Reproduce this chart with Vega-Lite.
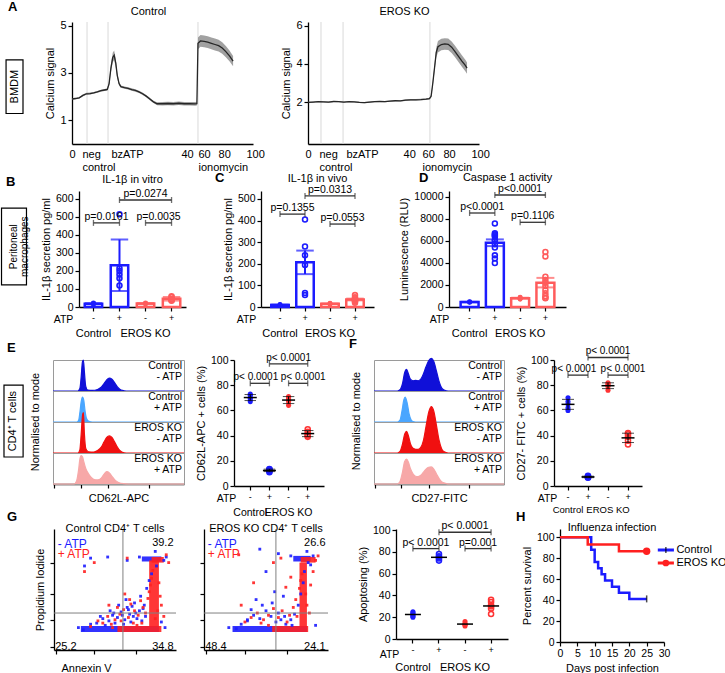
{
"$schema":"https://vega.github.io/schema/vega-lite/v6.json",
"padding":{"left":0,"top":1,"right":0,"bottom":0},
"bounds":"flush",
"spacing":169,
"resolve":{"scale":{"color":"independent","stroke":"independent"}},
"config":{
 "font":"Liberation Sans",
 "view":{"stroke":null},
 "axis":{"labelFontSize":10.5,"titleFontSize":11,"titleFontWeight":"normal","labelColor":"#000","titleColor":"#000","domainColor":"#000","tickColor":"#000","domainWidth":1.3,"tickWidth":1.2,"tickSize":4,"labelPadding":2,"titlePadding":4,"grid":false,"labelFlush":false,"labelOverlap":false},
 "title":{"fontSize":11,"fontWeight":"normal","color":"#000"},
 "text":{"fontSize":10.5,"color":"#000"},
 "header":{"titleFontSize":11,"titleFontWeight":"normal","titleColor":"#000"}
},
"datasets":{
 "evC":[{"t":8.3},{"t":19.9},{"t":69.6}],
 "evE":[{"t":7.6},{"t":20.5},{"t":71.3}],
 "caC":[{"t":0,"v":1.9,"e":0.03},{"t":2,"v":1.92,"e":0.03},{"t":4,"v":1.95,"e":0.03},{"t":6,"v":2.05,"e":0.04},{"t":8,"v":2.12,"e":0.04},{"t":10,"v":2.13,"e":0.04},{"t":12,"v":2.16,"e":0.04},{"t":14,"v":2.2,"e":0.04},{"t":16,"v":2.25,"e":0.04},{"t":18,"v":2.28,"e":0.04},{"t":19.5,"v":2.3,"e":0.05},{"t":20.5,"v":2.55,"e":0.1},{"t":21.5,"v":3.2,"e":0.15},{"t":22.5,"v":3.65,"e":0.2},{"t":23.3,"v":3.75,"e":0.2},{"t":24.2,"v":3.4,"e":0.18},{"t":25,"v":2.9,"e":0.12},{"t":26,"v":2.55,"e":0.08},{"t":27,"v":2.42,"e":0.05},{"t":29,"v":2.38,"e":0.05},{"t":31,"v":2.35,"e":0.05},{"t":33,"v":2.3,"e":0.05},{"t":35,"v":2.26,"e":0.05},{"t":37,"v":2.2,"e":0.05},{"t":39,"v":2.12,"e":0.05},{"t":41,"v":2.02,"e":0.05},{"t":43,"v":1.9,"e":0.05},{"t":45,"v":1.78,"e":0.05},{"t":47,"v":1.7,"e":0.06},{"t":50,"v":1.7,"e":0.07},{"t":53,"v":1.71,"e":0.07},{"t":56,"v":1.7,"e":0.07},{"t":59,"v":1.72,"e":0.07},{"t":62,"v":1.7,"e":0.07},{"t":65,"v":1.7,"e":0.07},{"t":68,"v":1.69,"e":0.08},{"t":69,"v":1.7,"e":0.08},{"t":69.6,"v":4.25,"e":0.25},{"t":71,"v":4.35,"e":0.25},{"t":73,"v":4.33,"e":0.25},{"t":75,"v":4.3,"e":0.25},{"t":77,"v":4.25,"e":0.25},{"t":79,"v":4.2,"e":0.25},{"t":81,"v":4.15,"e":0.25},{"t":83,"v":4.05,"e":0.24},{"t":85,"v":3.9,"e":0.24},{"t":87,"v":3.72,"e":0.23},{"t":89,"v":3.5,"e":0.22}],
 "caE":[{"t":0,"v":1.98,"e":0.03},{"t":3,"v":2.0,"e":0.03},{"t":6,"v":2.02,"e":0.03},{"t":9,"v":2.01,"e":0.03},{"t":12,"v":2.0,"e":0.03},{"t":15,"v":2.03,"e":0.03},{"t":18,"v":2.02,"e":0.03},{"t":21,"v":2.0,"e":0.03},{"t":24,"v":2.02,"e":0.03},{"t":27,"v":2.01,"e":0.03},{"t":30,"v":1.98,"e":0.03},{"t":33,"v":1.97,"e":0.03},{"t":36,"v":2.0,"e":0.03},{"t":39,"v":2.02,"e":0.03},{"t":42,"v":2.03,"e":0.03},{"t":45,"v":2.02,"e":0.03},{"t":48,"v":2.05,"e":0.03},{"t":51,"v":2.07,"e":0.03},{"t":54,"v":2.06,"e":0.03},{"t":57,"v":2.1,"e":0.04},{"t":60,"v":2.12,"e":0.04},{"t":63,"v":2.12,"e":0.04},{"t":66,"v":2.13,"e":0.04},{"t":69,"v":2.15,"e":0.04},{"t":71,"v":2.18,"e":0.05},{"t":72,"v":2.3,"e":0.08},{"t":73,"v":3.0,"e":0.15},{"t":74,"v":3.8,"e":0.2},{"t":75,"v":4.6,"e":0.25},{"t":76,"v":4.9,"e":0.3},{"t":78,"v":5.02,"e":0.3},{"t":80,"v":5.05,"e":0.3},{"t":82,"v":5.03,"e":0.3},{"t":84,"v":4.88,"e":0.3},{"t":86,"v":4.65,"e":0.3},{"t":88,"v":4.4,"e":0.3},{"t":90,"v":4.15,"e":0.3},{"t":92,"v":3.92,"e":0.3},{"t":93,"v":3.78,"e":0.3}],
 "B":[{"g":"C-","v":15},{"g":"C-","v":20},{"g":"C-","v":18},{"g":"C-","v":22},{"g":"C-","v":17},{"g":"C+","v":515},{"g":"C+","v":215},{"g":"C+","v":200},{"g":"C+","v":180},{"g":"C+","v":160},{"g":"C+","v":120},{"g":"E-","v":18},{"g":"E-","v":22},{"g":"E-","v":20},{"g":"E-","v":16},{"g":"E+","v":35},{"g":"E+","v":45},{"g":"E+","v":55},{"g":"E+","v":40},{"g":"E+","v":60},{"g":"E+","v":38}],
 "Bp":[{"g":"C-","g2":"C+","v":467,"p":"p=0.0161"},{"g":"E-","g2":"E+","v":467,"p":"p=0.0035"},{"g":"C+","g2":"E+","v":594,"p":"p=0.0274"}],
 "C":[{"g":"C-","v":8},{"g":"C-","v":10},{"g":"C-","v":12},{"g":"C-","v":9},{"g":"C+","v":405},{"g":"C+","v":280},{"g":"C+","v":240},{"g":"C+","v":195},{"g":"C+","v":65},{"g":"C+","v":55},{"g":"E-","v":12},{"g":"E-","v":15},{"g":"E-","v":18},{"g":"E-","v":14},{"g":"E+","v":55},{"g":"E+","v":45},{"g":"E+","v":40},{"g":"E+","v":35},{"g":"E+","v":30},{"g":"E+","v":25},{"g":"E+","v":20},{"g":"E+","v":28}],
 "Cp":[{"g":"C-","g2":"C+","v":430,"p":"p=0.1355"},{"g":"E-","g2":"E+","v":384,"p":"p=0.0553"},{"g":"C+","g2":"E+","v":514,"p":"p=0.0313"}],
 "D":[{"g":"C-","v":450},{"g":"C-","v":480},{"g":"C-","v":420},{"g":"C+","v":7600},{"g":"C+","v":6700},{"g":"C+","v":6600},{"g":"C+","v":6500},{"g":"C+","v":6400},{"g":"C+","v":6100},{"g":"C+","v":6000},{"g":"C+","v":5700},{"g":"C+","v":5400},{"g":"C+","v":4700},{"g":"C+","v":4400},{"g":"C+","v":4000},{"g":"E-","v":750},{"g":"E-","v":850},{"g":"E-","v":800},{"g":"E-","v":900},{"g":"E-","v":700},{"g":"E+","v":5000},{"g":"E+","v":4600},{"g":"E+","v":2750},{"g":"E+","v":2450},{"g":"E+","v":2200},{"g":"E+","v":1900},{"g":"E+","v":1550},{"g":"E+","v":1250},{"g":"E+","v":1000},{"g":"E+","v":850},{"g":"E+","v":800}],
 "Dp":[{"g":"C-","g2":"C+","v":8545,"p":"p<0.0001"},{"g":"E-","g2":"E+","v":7700,"p":"p=0.1106"},{"g":"C+","g2":"E+","v":10180,"p":"p<0.0001"}],
 "E":[{"g":"C-","v":67},{"g":"C-","v":69},{"g":"C-","v":70},{"g":"C-","v":72},{"g":"C-","v":73},{"g":"C+","v":11},{"g":"C+","v":12},{"g":"C+","v":12.5},{"g":"C+","v":13},{"g":"C+","v":13.5},{"g":"E-","v":64},{"g":"E-","v":67},{"g":"E-","v":69},{"g":"E-","v":70},{"g":"E-","v":71},{"g":"E+","v":39},{"g":"E+","v":40},{"g":"E+","v":41},{"g":"E+","v":43},{"g":"E+","v":45}],
 "Ep":[{"g":"C-","g2":"C+","v":81.5,"p":"p< 0.0001"},{"g":"E-","g2":"E+","v":81.5,"p":"p< 0.0001"},{"g":"C+","g2":"E+","v":97,"p":"p< 0.0001"}],
 "F":[{"g":"C-","v":60},{"g":"C-","v":62},{"g":"C-","v":65},{"g":"C-","v":67},{"g":"C-","v":70},{"g":"C+","v":6.5},{"g":"C+","v":7},{"g":"C+","v":7.5},{"g":"C+","v":8},{"g":"C+","v":7},{"g":"E-","v":76},{"g":"E-","v":79},{"g":"E-","v":80},{"g":"E-","v":81},{"g":"E-","v":82},{"g":"E+","v":33},{"g":"E+","v":36},{"g":"E+","v":39},{"g":"E+","v":41},{"g":"E+","v":42}],
 "Fp":[{"g":"C-","g2":"C+","v":88,"p":"p< 0.0001"},{"g":"E-","g2":"E+","v":88,"p":"p< 0.0001"},{"g":"C+","g2":"E+","v":102,"p":"p< 0.0001"}],
 "G":[{"g":"C-","v":20},{"g":"C-","v":21},{"g":"C-","v":22},{"g":"C-","v":23},{"g":"C-","v":24},{"g":"C-","v":25},{"g":"C+","v":72},{"g":"C+","v":74},{"g":"C+","v":75},{"g":"C+","v":76},{"g":"C+","v":78},{"g":"E-","v":12},{"g":"E-","v":13},{"g":"E-","v":13.5},{"g":"E-","v":14},{"g":"E-","v":16},{"g":"E+","v":23},{"g":"E+","v":28},{"g":"E+","v":30},{"g":"E+","v":31},{"g":"E+","v":34},{"g":"E+","v":36}],
 "Gp":[{"g":"C-","g2":"C+","v":83,"p":"p< 0.0001"},{"g":"E-","g2":"E+","v":83,"p":"p=0.001"},{"g":"C+","g2":"E+","v":98,"p":"p< 0.0001"}],
 "hE":[
  {"k":"Control|- ATP","x":0,"d":0},{"k":"Control|- ATP","x":19,"d":0},{"k":"Control|- ATP","x":20.5,"d":0.08},{"k":"Control|- ATP","x":21.5,"d":0.45},{"k":"Control|- ATP","x":22.5,"d":0.95},{"k":"Control|- ATP","x":23.2,"d":1.0},{"k":"Control|- ATP","x":24,"d":0.6},{"k":"Control|- ATP","x":25,"d":0.15},{"k":"Control|- ATP","x":26.5,"d":0.03},{"k":"Control|- ATP","x":30,"d":0.02},{"k":"Control|- ATP","x":34,"d":0.05},{"k":"Control|- ATP","x":37,"d":0.13},{"k":"Control|- ATP","x":39,"d":0.24},{"k":"Control|- ATP","x":41,"d":0.36},{"k":"Control|- ATP","x":43,"d":0.42},{"k":"Control|- ATP","x":45,"d":0.38},{"k":"Control|- ATP","x":47,"d":0.27},{"k":"Control|- ATP","x":49,"d":0.14},{"k":"Control|- ATP","x":51,"d":0.06},{"k":"Control|- ATP","x":53,"d":0.02},{"k":"Control|- ATP","x":56,"d":0},{"k":"Control|- ATP","x":100,"d":0},
  {"k":"Control|+ ATP","x":0,"d":0},{"k":"Control|+ ATP","x":18,"d":0},{"k":"Control|+ ATP","x":19.5,"d":0.05},{"k":"Control|+ ATP","x":20.5,"d":0.3},{"k":"Control|+ ATP","x":21.5,"d":0.65},{"k":"Control|+ ATP","x":22.5,"d":0.8},{"k":"Control|+ ATP","x":23.5,"d":0.7},{"k":"Control|+ ATP","x":24.5,"d":0.35},{"k":"Control|+ ATP","x":25.5,"d":0.12},{"k":"Control|+ ATP","x":27,"d":0.03},{"k":"Control|+ ATP","x":30,"d":0},{"k":"Control|+ ATP","x":100,"d":0},
  {"k":"EROS KO|- ATP","x":0,"d":0},{"k":"EROS KO|- ATP","x":19,"d":0},{"k":"EROS KO|- ATP","x":20.5,"d":0.1},{"k":"EROS KO|- ATP","x":21.5,"d":0.6},{"k":"EROS KO|- ATP","x":22.5,"d":1.2},{"k":"EROS KO|- ATP","x":23.2,"d":1.3},{"k":"EROS KO|- ATP","x":24,"d":0.6},{"k":"EROS KO|- ATP","x":25,"d":0.15},{"k":"EROS KO|- ATP","x":27,"d":0.04},{"k":"EROS KO|- ATP","x":31,"d":0.03},{"k":"EROS KO|- ATP","x":34,"d":0.08},{"k":"EROS KO|- ATP","x":37,"d":0.2},{"k":"EROS KO|- ATP","x":39,"d":0.36},{"k":"EROS KO|- ATP","x":41,"d":0.5},{"k":"EROS KO|- ATP","x":43,"d":0.55},{"k":"EROS KO|- ATP","x":45,"d":0.5},{"k":"EROS KO|- ATP","x":47,"d":0.36},{"k":"EROS KO|- ATP","x":49,"d":0.2},{"k":"EROS KO|- ATP","x":51,"d":0.08},{"k":"EROS KO|- ATP","x":53,"d":0.02},{"k":"EROS KO|- ATP","x":56,"d":0},{"k":"EROS KO|- ATP","x":100,"d":0},
  {"k":"EROS KO|+ ATP","x":0,"d":0},{"k":"EROS KO|+ ATP","x":16,"d":0},{"k":"EROS KO|+ ATP","x":18,"d":0.1},{"k":"EROS KO|+ ATP","x":19.5,"d":0.45},{"k":"EROS KO|+ ATP","x":20.5,"d":0.8},{"k":"EROS KO|+ ATP","x":21.5,"d":0.92},{"k":"EROS KO|+ ATP","x":22.5,"d":0.88},{"k":"EROS KO|+ ATP","x":23.5,"d":0.72},{"k":"EROS KO|+ ATP","x":25,"d":0.5},{"k":"EROS KO|+ ATP","x":27,"d":0.34},{"k":"EROS KO|+ ATP","x":29,"d":0.22},{"k":"EROS KO|+ ATP","x":31,"d":0.15},{"k":"EROS KO|+ ATP","x":34,"d":0.13},{"k":"EROS KO|+ ATP","x":37,"d":0.2},{"k":"EROS KO|+ ATP","x":39,"d":0.32},{"k":"EROS KO|+ ATP","x":41,"d":0.4},{"k":"EROS KO|+ ATP","x":43,"d":0.36},{"k":"EROS KO|+ ATP","x":45,"d":0.25},{"k":"EROS KO|+ ATP","x":47,"d":0.14},{"k":"EROS KO|+ ATP","x":50,"d":0.05},{"k":"EROS KO|+ ATP","x":54,"d":0.01},{"k":"EROS KO|+ ATP","x":58,"d":0},{"k":"EROS KO|+ ATP","x":100,"d":0}
 ],
 "hF":[
  {"k":"Control|- ATP","x":0,"d":0},{"k":"Control|- ATP","x":18,"d":0},{"k":"Control|- ATP","x":20,"d":0.04},{"k":"Control|- ATP","x":22,"d":0.25},{"k":"Control|- ATP","x":23.5,"d":0.58},{"k":"Control|- ATP","x":25,"d":0.7},{"k":"Control|- ATP","x":26.5,"d":0.55},{"k":"Control|- ATP","x":28,"d":0.38},{"k":"Control|- ATP","x":30,"d":0.33},{"k":"Control|- ATP","x":32,"d":0.34},{"k":"Control|- ATP","x":34,"d":0.33},{"k":"Control|- ATP","x":36,"d":0.38},{"k":"Control|- ATP","x":38,"d":0.55},{"k":"Control|- ATP","x":40,"d":0.78},{"k":"Control|- ATP","x":42,"d":0.97},{"k":"Control|- ATP","x":44,"d":1.05},{"k":"Control|- ATP","x":46,"d":0.95},{"k":"Control|- ATP","x":48,"d":0.65},{"k":"Control|- ATP","x":50,"d":0.32},{"k":"Control|- ATP","x":52,"d":0.1},{"k":"Control|- ATP","x":54,"d":0.03},{"k":"Control|- ATP","x":57,"d":0},{"k":"Control|- ATP","x":100,"d":0},
  {"k":"Control|+ ATP","x":0,"d":0},{"k":"Control|+ ATP","x":18,"d":0},{"k":"Control|+ ATP","x":20,"d":0.06},{"k":"Control|+ ATP","x":21.5,"d":0.35},{"k":"Control|+ ATP","x":23,"d":0.72},{"k":"Control|+ ATP","x":24,"d":0.8},{"k":"Control|+ ATP","x":25.5,"d":0.62},{"k":"Control|+ ATP","x":27,"d":0.26},{"k":"Control|+ ATP","x":28.5,"d":0.07},{"k":"Control|+ ATP","x":30,"d":0.01},{"k":"Control|+ ATP","x":32,"d":0},{"k":"Control|+ ATP","x":100,"d":0},
  {"k":"EROS KO|- ATP","x":0,"d":0},{"k":"EROS KO|- ATP","x":18,"d":0},{"k":"EROS KO|- ATP","x":20,"d":0.05},{"k":"EROS KO|- ATP","x":22,"d":0.3},{"k":"EROS KO|- ATP","x":23.5,"d":0.6},{"k":"EROS KO|- ATP","x":25,"d":0.7},{"k":"EROS KO|- ATP","x":26.5,"d":0.55},{"k":"EROS KO|- ATP","x":28,"d":0.3},{"k":"EROS KO|- ATP","x":30,"d":0.15},{"k":"EROS KO|- ATP","x":32,"d":0.12},{"k":"EROS KO|- ATP","x":34,"d":0.12},{"k":"EROS KO|- ATP","x":36,"d":0.18},{"k":"EROS KO|- ATP","x":38,"d":0.4},{"k":"EROS KO|- ATP","x":40,"d":0.85},{"k":"EROS KO|- ATP","x":42,"d":1.3},{"k":"EROS KO|- ATP","x":44,"d":1.5},{"k":"EROS KO|- ATP","x":46,"d":1.35},{"k":"EROS KO|- ATP","x":48,"d":0.9},{"k":"EROS KO|- ATP","x":50,"d":0.42},{"k":"EROS KO|- ATP","x":52,"d":0.14},{"k":"EROS KO|- ATP","x":54,"d":0.04},{"k":"EROS KO|- ATP","x":57,"d":0},{"k":"EROS KO|- ATP","x":100,"d":0},
  {"k":"EROS KO|+ ATP","x":0,"d":0},{"k":"EROS KO|+ ATP","x":18,"d":0},{"k":"EROS KO|+ ATP","x":20,"d":0.08},{"k":"EROS KO|+ ATP","x":22,"d":0.4},{"k":"EROS KO|+ ATP","x":23.5,"d":0.72},{"k":"EROS KO|+ ATP","x":25,"d":0.8},{"k":"EROS KO|+ ATP","x":26.5,"d":0.7},{"k":"EROS KO|+ ATP","x":28,"d":0.5},{"k":"EROS KO|+ ATP","x":30,"d":0.33},{"k":"EROS KO|+ ATP","x":32,"d":0.25},{"k":"EROS KO|+ ATP","x":34,"d":0.24},{"k":"EROS KO|+ ATP","x":36,"d":0.28},{"k":"EROS KO|+ ATP","x":38,"d":0.38},{"k":"EROS KO|+ ATP","x":40,"d":0.48},{"k":"EROS KO|+ ATP","x":42,"d":0.54},{"k":"EROS KO|+ ATP","x":44,"d":0.55},{"k":"EROS KO|+ ATP","x":46,"d":0.48},{"k":"EROS KO|+ ATP","x":48,"d":0.33},{"k":"EROS KO|+ ATP","x":50,"d":0.18},{"k":"EROS KO|+ ATP","x":52,"d":0.07},{"k":"EROS KO|+ ATP","x":55,"d":0.02},{"k":"EROS KO|+ ATP","x":58,"d":0},{"k":"EROS KO|+ ATP","x":100,"d":0}
 ],
 "gcR":[{"s":"minus","x1":22,"x2":86,"y1":16,"y2":21.5},{"s":"plus","x1":52,"x2":88,"y1":16,"y2":21.5},{"s":"minus","x1":72,"x2":88,"y1":79,"y2":83.5},{"s":"plus","x1":78,"x2":86,"y1":21,"y2":80},{"s":"plus","x1":80,"x2":90,"y1":78,"y2":83}],
 "geR":[{"s":"minus","x1":23,"x2":83,"y1":16,"y2":21.5},{"s":"plus","x1":55,"x2":84,"y1":16,"y2":21.5},{"s":"minus","x1":72,"x2":86,"y1":79,"y2":84},{"s":"plus","x1":77,"x2":83,"y1":21,"y2":78},{"s":"plus","x1":78,"x2":90,"y1":78,"y2":83}],
 "gcP":[{"s":"minus","x":35,"y":24},{"s":"minus","x":40,"y":28},{"s":"minus","x":45,"y":26},{"s":"minus","x":48,"y":31},{"s":"minus","x":52,"y":29},{"s":"minus","x":55,"y":34},{"s":"minus","x":58,"y":27},{"s":"minus","x":60,"y":38},{"s":"minus","x":62,"y":32},{"s":"minus","x":65,"y":30},{"s":"minus","x":42,"y":22},{"s":"minus","x":50,"y":24},{"s":"minus","x":57,"y":23},{"s":"minus","x":63,"y":25},{"s":"minus","x":68,"y":28},{"s":"minus","x":70,"y":35},{"s":"minus","x":72,"y":26},{"s":"minus","x":74,"y":40},{"s":"minus","x":75,"y":30},{"s":"minus","x":30,"y":23},{"s":"minus","x":38,"y":30},{"s":"minus","x":46,"y":35},{"s":"minus","x":53,"y":40},{"s":"minus","x":59,"y":45},{"s":"minus","x":66,"y":42},{"s":"minus","x":71,"y":48},{"s":"minus","x":76,"y":55},{"s":"minus","x":78,"y":62},{"s":"minus","x":80,"y":68},{"s":"minus","x":84,"y":75},{"s":"minus","x":83,"y":88},{"s":"minus","x":90,"y":80},{"s":"minus","x":92,"y":83},{"s":"minus","x":70,"y":83},{"s":"minus","x":25,"y":75},{"s":"minus","x":30,"y":82},{"s":"minus","x":60,"y":80},{"s":"minus","x":44,"y":83},{"s":"minus","x":88,"y":25},{"s":"minus","x":91,"y":20},{"s":"minus","x":20,"y":20},{"s":"minus","x":24,"y":18},{"s":"minus","x":61,"y":36},{"s":"minus","x":67,"y":33},{"s":"minus","x":73,"y":37},{"s":"minus","x":56,"y":31},{"s":"minus","x":49,"y":33},{"s":"minus","x":64,"y":39},
  {"s":"plus","x":36,"y":26},{"s":"plus","x":44,"y":30},{"s":"plus","x":50,"y":27},{"s":"plus","x":54,"y":32},{"s":"plus","x":57,"y":36},{"s":"plus","x":61,"y":29},{"s":"plus","x":63,"y":41},{"s":"plus","x":66,"y":35},{"s":"plus","x":69,"y":31},{"s":"plus","x":71,"y":44},{"s":"plus","x":73,"y":38},{"s":"plus","x":75,"y":33},{"s":"plus","x":77,"y":46},{"s":"plus","x":78,"y":52},{"s":"plus","x":79,"y":58},{"s":"plus","x":80,"y":64},{"s":"plus","x":81,"y":71},{"s":"plus","x":86,"y":60},{"s":"plus","x":87,"y":48},{"s":"plus","x":88,"y":40},{"s":"plus","x":90,"y":30},{"s":"plus","x":85,"y":35},{"s":"plus","x":83,"y":28},{"s":"plus","x":65,"y":24},{"s":"plus","x":68,"y":22},{"s":"plus","x":72,"y":24},{"s":"plus","x":40,"y":24},{"s":"plus","x":47,"y":23},{"s":"plus","x":55,"y":26},{"s":"plus","x":62,"y":45},{"s":"plus","x":58,"y":50},{"s":"plus","x":52,"y":38},{"s":"plus","x":45,"y":40},{"s":"plus","x":25,"y":70},{"s":"plus","x":33,"y":78},{"s":"plus","x":60,"y":82},{"s":"plus","x":92,"y":85},{"s":"plus","x":94,"y":78},{"s":"plus","x":48,"y":20},{"s":"plus","x":30,"y":21}],
 "geP":[{"s":"minus","x":30,"y":23},{"s":"minus","x":35,"y":27},{"s":"minus","x":40,"y":31},{"s":"minus","x":45,"y":28},{"s":"minus","x":50,"y":35},{"s":"minus","x":54,"y":30},{"s":"minus","x":58,"y":25},{"s":"minus","x":62,"y":27},{"s":"minus","x":47,"y":40},{"s":"minus","x":42,"y":45},{"s":"minus","x":38,"y":36},{"s":"minus","x":55,"y":42},{"s":"minus","x":60,"y":33},{"s":"minus","x":65,"y":30},{"s":"minus","x":70,"y":27},{"s":"minus","x":73,"y":32},{"s":"minus","x":76,"y":40},{"s":"minus","x":78,"y":50},{"s":"minus","x":80,"y":60},{"s":"minus","x":81,"y":70},{"s":"minus","x":84,"y":78},{"s":"minus","x":88,"y":84},{"s":"minus","x":70,"y":84},{"s":"minus","x":60,"y":86},{"s":"minus","x":50,"y":70},{"s":"minus","x":45,"y":90},{"s":"minus","x":35,"y":26},{"s":"minus","x":66,"y":23},{"s":"minus","x":71,"y":22},{"s":"minus","x":20,"y":20},{"s":"minus","x":26,"y":19},{"s":"minus","x":90,"y":22},{"s":"minus","x":83,"y":88},{"s":"minus","x":86,"y":76},{"s":"minus","x":64,"y":48},{"s":"minus","x":57,"y":52},
  {"s":"plus","x":33,"y":25},{"s":"plus","x":38,"y":29},{"s":"plus","x":43,"y":33},{"s":"plus","x":48,"y":27},{"s":"plus","x":52,"y":31},{"s":"plus","x":56,"y":37},{"s":"plus","x":60,"y":29},{"s":"plus","x":63,"y":35},{"s":"plus","x":67,"y":25},{"s":"plus","x":69,"y":31},{"s":"plus","x":72,"y":38},{"s":"plus","x":74,"y":45},{"s":"plus","x":75,"y":30},{"s":"plus","x":77,"y":55},{"s":"plus","x":78,"y":62},{"s":"plus","x":79,"y":68},{"s":"plus","x":82,"y":50},{"s":"plus","x":83,"y":40},{"s":"plus","x":85,"y":33},{"s":"plus","x":86,"y":58},{"s":"plus","x":88,"y":70},{"s":"plus","x":90,"y":80},{"s":"plus","x":92,"y":84},{"s":"plus","x":62,"y":82},{"s":"plus","x":56,"y":78},{"s":"plus","x":40,"y":60},{"s":"plus","x":30,"y":40},{"s":"plus","x":28,"y":85},{"s":"plus","x":46,"y":24},{"s":"plus","x":52,"y":22},{"s":"plus","x":66,"y":56},{"s":"plus","x":70,"y":65}],
 "H":[{"grp":"Control","d":0,"s":100},{"grp":"Control","d":9,"s":88.2},{"grp":"Control","d":10,"s":76.5},{"grp":"Control","d":11,"s":70.6},{"grp":"Control","d":12,"s":64.7},{"grp":"Control","d":13,"s":58.8},{"grp":"Control","d":15,"s":52.9},{"grp":"Control","d":17,"s":47.1},{"grp":"Control","d":20,"s":41.2},{"grp":"Control","d":25,"s":41.2},{"grp":"EROS KO","d":0,"s":100},{"grp":"EROS KO","d":8,"s":93.3},{"grp":"EROS KO","d":17,"s":86.7},{"grp":"EROS KO","d":25,"s":86.7}],
 "Hleg":[{"grp":"Control"},{"grp":"EROS KO"}]
},
"vconcat":[
 {"spacing":0,"bounds":"flush","resolve":{"scale":{"color":"independent","stroke":"independent"}},"hconcat":[
  {"width":22,"height":122,"title":{"text":"A","anchor":"start","frame":"group","fontSize":13,"fontWeight":"bold","offset":8,"dx":7},
   "data":{"values":[{}]},
   "layer":[
    {"mark":{"type":"rect","fill":"white","stroke":"#000","strokeWidth":1.2},"encoding":{"x":{"datum":0.23,"type":"quantitative","scale":{"domain":[0,1]},"axis":null},"x2":{"datum":1.0},"y":{"datum":0.25,"type":"quantitative","scale":{"domain":[0,1]},"axis":null},"y2":{"datum":0.69}}},
    {"mark":{"type":"text","angle":270,"fontSize":11},"encoding":{"x":{"datum":0.615,"type":"quantitative"},"y":{"datum":0.47,"type":"quantitative"},"text":{"value":"BMDM"}}}
   ]},
  {"width":49,"height":1,"data":{"values":[{}]},"mark":"text","encoding":{}},
  {"width":181,"height":122,"title":{"text":"Control","offset":3,"dx":-14},
   "encoding":{"x":{"field":"t","type":"quantitative","title":null,"scale":{"domain":[0,100],"nice":false},"axis":{"values":[0,5.5,21.5,60.2,69.6,80.7,96.1],"labelExpr":"datum.value==5.5?['neg','control']:datum.value==21.5?'bzATP':datum.value==60.2?'40':datum.value==69.6?['60','ionomycin']:datum.value==80.7?'80':datum.value==96.1?'100':datum.label","labelAlign":{"condition":{"test":"datum.value==0","value":"center"},"value":"left"},"ticks":false,"labelPadding":4,"title":null,"labelFontSize":11,"labelOverlap":false,"labelBound":false,"labelSeparation":0}}},
   "layer":[
    {"data":{"name":"evC"},"mark":{"type":"rule","color":"#d9d9d9","strokeWidth":1},"encoding":{}},
    {"data":{"name":"caC"},"mark":{"type":"errorband","color":"#8a8a8a","opacity":0.8},"encoding":{"y":{"field":"v","type":"quantitative","scale":{"domain":[0,5.15],"nice":false},"axis":{"values":[1,2,3,4,5],"title":"Calcium signal","labelFontSize":11}},"yError":{"field":"e"}}},
    {"data":{"name":"caC"},"mark":{"type":"line","color":"#262626","strokeWidth":1.3},"encoding":{"y":{"field":"v","type":"quantitative","title":"Calcium signal"}}}
   ]},
  {"width":55,"height":1,"data":{"values":[{}]},"mark":"text","encoding":{}},
  {"width":171,"height":122,"title":{"text":"EROS KO","offset":3,"dx":11},
   "encoding":{"x":{"field":"t","type":"quantitative","title":null,"scale":{"domain":[0,100],"nice":false},"axis":{"values":[0,6.4,22.2,55.6,66.7,78.9,95.3],"labelExpr":"datum.value==6.4?['neg','control']:datum.value==22.2?'bzATP':datum.value==55.6?'40':datum.value==66.7?['60','ionomycin']:datum.value==78.9?'80':datum.value==95.3?'100':datum.label","labelAlign":{"condition":{"test":"datum.value==0","value":"center"},"value":"left"},"ticks":false,"labelPadding":4,"title":null,"labelFontSize":11,"labelOverlap":false,"labelBound":false,"labelSeparation":0}}},
   "layer":[
    {"data":{"name":"evE"},"mark":{"type":"rule","color":"#d9d9d9","strokeWidth":1},"encoding":{}},
    {"data":{"name":"caE"},"mark":{"type":"errorband","color":"#8a8a8a","opacity":0.8},"encoding":{"y":{"field":"v","type":"quantitative","scale":{"domain":[-0.2,6.2],"nice":false},"axis":{"values":[2,4,6],"title":"Calcium signal","labelFontSize":11}},"yError":{"field":"e"}}},
    {"data":{"name":"caE"},"mark":{"type":"line","color":"#262626","strokeWidth":1.3},"encoding":{"y":{"field":"v","type":"quantitative","title":"Calcium signal"}}}
   ]}
 ]},
 {"spacing":0,"bounds":"flush","resolve":{"scale":{"color":"independent","stroke":"independent"}},"hconcat":[
  {"width":26,"height":116,"title":{"text":"B","anchor":"start","frame":"group","fontSize":13,"fontWeight":"bold","offset":2,"dx":5},
   "data":{"values":[{}]},
   "layer":[
    {"mark":{"type":"rect","fill":"white","stroke":"#000","strokeWidth":1.2},"encoding":{"x":{"datum":0.02,"type":"quantitative","scale":{"domain":[0,1]},"axis":null},"x2":{"datum":0.98},"y":{"datum":0.19,"type":"quantitative","scale":{"domain":[0,1]},"axis":null},"y2":{"datum":0.853}}},
    {"mark":{"type":"text","angle":270,"fontSize":10,"lineBreak":"|","lineHeight":11},"encoding":{"x":{"datum":0.5,"type":"quantitative"},"y":{"datum":0.52,"type":"quantitative"},"text":{"value":"Peritoneal|macrophages"}}}
   ]},
  {"width":52,"height":1,"data":{"values":[{}]},"mark":"text","encoding":{}},
  {"width":107,"height":116,"title":{"text":"IL-1β in vitro","offset":4},
   "data":{"name":"B"},
   "encoding":{
    "x":{"field":"g","type":"nominal","scale":{"type":"band","domain":["C-","C+","E-","E+"],"paddingInner":0.33,"paddingOuter":0.22},"axis":null},
    "y":{"field":"v","type":"quantitative","scale":{"domain":[0,644],"nice":false},"axis":{"values":[0,100,200,300,400,500,600],"title":"IL-1β secretion pg/ml"}}
   },
   "layer":[
    {"mark":{"type":"bar","fill":"white","strokeWidth":2.5},"encoding":{"x":{"field":"g","type":"nominal","axis":{"labelExpr":"slice(datum.value,1)","labelAngle":0,"labelFontSize":9,"title":"ATP","titleX":-16,"titleY":15,"titleAlign":"center","titleBaseline":"alphabetic","titleFontSize":10.5}},"y":{"aggregate":"mean","field":"v","type":"quantitative","title":"IL-1β secretion pg/ml"},"stroke":{"field":"g","type":"nominal","scale":{"domain":["C-","C+","E-","E+"],"range":["#1c1cff","#1c1cff","#ff5c5c","#ff5c5c"]},"legend":null}}},
    {"mark":{"type":"errorbar","extent":"stdev","ticks":true,"thickness":2},"encoding":{"color":{"field":"g","type":"nominal","scale":{"domain":["C-","C+","E-","E+"],"range":["#1c1cff","#1c1cff","#ff5c5c","#ff5c5c"]},"legend":null}}},
    {"transform":[{"filter":"indexof(datum.g,'-')>0"}],"mark":{"type":"circle","size":24,"opacity":1},"encoding":{"color":{"field":"g","type":"nominal","scale":{"domain":["C-","C+","E-","E+"],"range":["#1c1cff","#1c1cff","#ff5c5c","#ff5c5c"]},"legend":null}}},
    {"transform":[{"filter":"indexof(datum.g,'+')>0"}],"mark":{"type":"point","size":24,"strokeWidth":1.6,"opacity":1},"encoding":{"color":{"field":"g","type":"nominal","scale":{"domain":["C-","C+","E-","E+"],"range":["#1c1cff","#1c1cff","#ff5c5c","#ff5c5c"]},"legend":null}}},
    {"data":{"name":"Bp"},"mark":{"type":"rule","color":"#333","strokeWidth":1.3},"encoding":{"x2":{"field":"g2"}}},
    {"data":{"name":"Bp"},"transform":[{"fold":["g","g2"],"as":["kk","gg"]}],"mark":{"type":"tick","orient":"vertical","size":6,"thickness":1.3,"color":"#333"},"encoding":{"x":{"field":"gg","type":"nominal","axis":null}}},
    {"data":{"name":"Bp"},"transform":[{"filter":"datum.g!='C+'"}],"mark":{"type":"text","baseline":"bottom","dy":-1},"encoding":{"x":{"field":"g","type":"nominal","bandPosition":1.246,"axis":null},"text":{"field":"p"}}},
    {"data":{"name":"Bp"},"transform":[{"filter":"datum.g=='C+'"}],"mark":{"type":"text","baseline":"bottom","dy":-1},"encoding":{"x":{"field":"g","type":"nominal","bandPosition":1.99,"axis":{"orient":"bottom","offset":18,"domain":false,"ticks":false,"labelPadding":2,"labelFontSize":11,"labelAngle":0,"labelExpr":"datum.value=='C-'?'Control':datum.value=='E-'?'EROS KO':''","bandPosition":1.246,"title":null}},"text":{"field":"p"}}}
   ],
   "resolve":{"axis":{"x":"independent"}}},
  {"width":75,"height":1,"title":{"text":"C","anchor":"start","frame":"group","fontSize":13,"fontWeight":"bold","offset":2,"dx":29},"data":{"values":[{}]},"mark":"text","encoding":{}},
  {"width":113,"height":116,"title":{"text":"IL-1β in vivo","offset":1},
   "data":{"name":"C"},
   "encoding":{
    "x":{"field":"g","type":"nominal","scale":{"type":"band","domain":["C-","C+","E-","E+"],"paddingInner":0.3,"paddingOuter":0.41},"axis":null},
    "y":{"field":"v","type":"quantitative","scale":{"domain":[0,537],"nice":false},"axis":{"values":[0,100,200,300,400,500],"title":"IL-1β secretion pg/ml"}}
   },
   "layer":[
    {"mark":{"type":"bar","fill":"white","strokeWidth":2.5},"encoding":{"x":{"field":"g","type":"nominal","axis":{"labelExpr":"slice(datum.value,1)","labelAngle":0,"labelFontSize":9,"title":"ATP","titleX":-15,"titleY":15,"titleAlign":"center","titleBaseline":"alphabetic","titleFontSize":10.5}},"y":{"aggregate":"mean","field":"v","type":"quantitative","title":"IL-1β secretion pg/ml"},"stroke":{"field":"g","type":"nominal","scale":{"domain":["C-","C+","E-","E+"],"range":["#1c1cff","#1c1cff","#ff5c5c","#ff5c5c"]},"legend":null}}},
    {"mark":{"type":"errorbar","extent":"stderr","ticks":true,"thickness":2},"encoding":{"color":{"field":"g","type":"nominal","scale":{"domain":["C-","C+","E-","E+"],"range":["#1c1cff","#1c1cff","#ff5c5c","#ff5c5c"]},"legend":null}}},
    {"transform":[{"filter":"indexof(datum.g,'-')>0"}],"mark":{"type":"circle","size":24,"opacity":1},"encoding":{"color":{"field":"g","type":"nominal","scale":{"domain":["C-","C+","E-","E+"],"range":["#1c1cff","#1c1cff","#ff5c5c","#ff5c5c"]},"legend":null}}},
    {"transform":[{"filter":"indexof(datum.g,'+')>0"}],"mark":{"type":"point","size":24,"strokeWidth":1.6,"opacity":1},"encoding":{"color":{"field":"g","type":"nominal","scale":{"domain":["C-","C+","E-","E+"],"range":["#1c1cff","#1c1cff","#ff5c5c","#ff5c5c"]},"legend":null}}},
    {"data":{"name":"Cp"},"mark":{"type":"rule","color":"#333","strokeWidth":1.3},"encoding":{"x2":{"field":"g2"}}},
    {"data":{"name":"Cp"},"transform":[{"fold":["g","g2"],"as":["kk","gg"]}],"mark":{"type":"tick","orient":"vertical","size":6,"thickness":1.3,"color":"#333"},"encoding":{"x":{"field":"gg","type":"nominal","axis":null}}},
    {"data":{"name":"Cp"},"transform":[{"filter":"datum.g!='C+'"}],"mark":{"type":"text","baseline":"bottom","dy":-1},"encoding":{"x":{"field":"g","type":"nominal","bandPosition":1.214,"axis":null},"text":{"field":"p"}}},
    {"data":{"name":"Cp"},"transform":[{"filter":"datum.g=='C+'"}],"mark":{"type":"text","baseline":"bottom","dy":-1},"encoding":{"x":{"field":"g","type":"nominal","bandPosition":1.93,"axis":{"orient":"bottom","offset":18,"domain":false,"ticks":false,"labelPadding":2,"labelFontSize":11,"labelAngle":0,"labelExpr":"datum.value=='C-'?'Control':datum.value=='E-'?'EROS KO':''","bandPosition":1.214,"title":null}},"text":{"field":"p"}}}
   ],
   "resolve":{"axis":{"x":"independent"}}},
  {"width":75,"height":1,"title":{"text":"D","anchor":"start","frame":"group","fontSize":13,"fontWeight":"bold","offset":2,"dx":45},"data":{"values":[{}]},"mark":"text","encoding":{}},
  {"width":117,"height":116,"title":{"text":"Caspase 1 activity","offset":1},
   "data":{"name":"D"},
   "encoding":{
    "x":{"field":"g","type":"nominal","scale":{"type":"band","domain":["C-","C+","E-","E+"],"paddingInner":0.29,"paddingOuter":0.46},"axis":null},
    "y":{"field":"v","type":"quantitative","scale":{"domain":[0,10545],"nice":false},"axis":{"values":[0,2000,4000,6000,8000,10000],"format":"d","title":"Luminescence (RLU)"}}
   },
   "layer":[
    {"mark":{"type":"bar","fill":"white","strokeWidth":2.5},"encoding":{"x":{"field":"g","type":"nominal","axis":{"labelExpr":"slice(datum.value,1)","labelAngle":0,"labelFontSize":9,"title":"ATP","titleX":-10,"titleY":15,"titleAlign":"center","titleBaseline":"alphabetic","titleFontSize":10.5}},"y":{"aggregate":"mean","field":"v","type":"quantitative","title":"Luminescence (RLU)"},"stroke":{"field":"g","type":"nominal","scale":{"domain":["C-","C+","E-","E+"],"range":["#1c1cff","#1c1cff","#ff5c5c","#ff5c5c"]},"legend":null}}},
    {"mark":{"type":"errorbar","extent":"stderr","ticks":true,"thickness":2},"encoding":{"color":{"field":"g","type":"nominal","scale":{"domain":["C-","C+","E-","E+"],"range":["#1c1cff","#1c1cff","#ff5c5c","#ff5c5c"]},"legend":null}}},
    {"transform":[{"filter":"indexof(datum.g,'-')>0"}],"mark":{"type":"circle","size":24,"opacity":1},"encoding":{"color":{"field":"g","type":"nominal","scale":{"domain":["C-","C+","E-","E+"],"range":["#1c1cff","#1c1cff","#ff5c5c","#ff5c5c"]},"legend":null}}},
    {"transform":[{"filter":"indexof(datum.g,'+')>0"}],"mark":{"type":"point","size":24,"strokeWidth":1.6,"opacity":1},"encoding":{"color":{"field":"g","type":"nominal","scale":{"domain":["C-","C+","E-","E+"],"range":["#1c1cff","#1c1cff","#ff5c5c","#ff5c5c"]},"legend":null}}},
    {"data":{"name":"Dp"},"mark":{"type":"rule","color":"#333","strokeWidth":1.3},"encoding":{"x2":{"field":"g2"}}},
    {"data":{"name":"Dp"},"transform":[{"fold":["g","g2"],"as":["kk","gg"]}],"mark":{"type":"tick","orient":"vertical","size":6,"thickness":1.3,"color":"#333"},"encoding":{"x":{"field":"gg","type":"nominal","axis":null}}},
    {"data":{"name":"Dp"},"transform":[{"filter":"datum.g!='C+'"}],"mark":{"type":"text","baseline":"bottom","dy":-1},"encoding":{"x":{"field":"g","type":"nominal","bandPosition":1.204,"axis":null},"text":{"field":"p"}}},
    {"data":{"name":"Dp"},"transform":[{"filter":"datum.g=='C+'"}],"mark":{"type":"text","baseline":"bottom","dy":-1},"encoding":{"x":{"field":"g","type":"nominal","bandPosition":1.91,"axis":{"orient":"bottom","offset":18,"domain":false,"ticks":false,"labelPadding":2,"labelFontSize":11,"labelAngle":0,"labelExpr":"datum.value=='C-'?'Control':datum.value=='E-'?'EROS KO':''","bandPosition":1.204,"title":null}},"text":{"field":"p"}}}
   ],
   "resolve":{"axis":{"x":"independent"}}}
 ]},
 {"spacing":0,"bounds":"flush","resolve":{"scale":{"color":"independent","stroke":"independent"}},"hconcat":[
  {"width":26,"height":126,"title":{"text":"E","anchor":"start","frame":"group","fontSize":13,"fontWeight":"bold","offset":5,"dx":6},
   "data":{"values":[{}]},
   "layer":[
    {"mark":{"type":"rect","fill":"white","stroke":"#000","strokeWidth":1.2},"encoding":{"x":{"datum":0.115,"type":"quantitative","scale":{"domain":[0,1]},"axis":null},"x2":{"datum":0.85},"y":{"datum":0.23,"type":"quantitative","scale":{"domain":[0,1]},"axis":null},"y2":{"datum":0.8}}},
    {"mark":{"type":"text","angle":270,"fontSize":11},"encoding":{"x":{"datum":0.48,"type":"quantitative"},"y":{"datum":0.515,"type":"quantitative"},"text":{"value":"CD4⁺ T cells"}}}
   ]},
  {"width":26,"height":1,"data":{"values":[{}]},"mark":"text","encoding":{}},
  {"data":{"name":"hE"},
   "facet":{"row":{"field":"k","type":"nominal","sort":["Control|- ATP","Control|+ ATP","EROS KO|- ATP","EROS KO|+ ATP"],"header":{"labels":false,"titleFontSize":11,"titleFontWeight":"normal","titlePadding":2},"title":"Normalised to mode"}},
   "spacing":0,"bounds":"flush",
   "spec":{"width":131,"height":31,"view":{"stroke":"#9a9a9a","strokeWidth":1},
    "layer":[
     {"mark":{"type":"area","line":{"strokeWidth":1.2},"opacity":1,"interpolate":"monotone"},"encoding":{
      "x":{"field":"x","type":"quantitative","scale":{"domain":[0,100],"nice":false},"axis":{"labels":false,"values":[1,8,12,14.5,16.5,18,19,20,21,21.5,22,22.5,23,23.5,24,35,42,46,49,51,53,54.5,56,66,73,77,80,82,84,85.5,87,97],"title":"CD62L-APC","tickSize":4}},
      "y":{"field":"d","type":"quantitative","scale":{"domain":[0,1],"nice":false},"axis":null},
      "color":{"field":"k","type":"nominal","scale":{"domain":["Control|- ATP","Control|+ ATP","EROS KO|- ATP","EROS KO|+ ATP"],"range":["#1010d8","#4aa6ff","#f01010","#f7a8a8"]},"legend":null}}},
     {"transform":[{"aggregate":[{"op":"count","as":"n"}],"groupby":["k"]}],"mark":{"type":"text","align":"right","baseline":"top","lineBreak":"|","fontSize":10.5,"lineHeight":11,"dx":-2,"dy":1},"encoding":{"x":{"datum":100,"type":"quantitative"},"y":{"datum":1,"type":"quantitative"},"text":{"field":"k","type":"nominal"}}}
    ]}},
  {"width":181,"height":1,"data":{"values":[{}]},"mark":"text","encoding":{}},
  {"width":90,"height":126,
   "data":{"name":"E"},
   "encoding":{
    "x":{"field":"g","type":"nominal","scale":{"type":"band","domain":["C-","C+","E-","E+"],"paddingInner":0.4,"paddingOuter":0.55},"axis":null},
    "y":{"field":"v","type":"quantitative","scale":{"domain":[0,100],"nice":false},"axis":{"values":[0,20,40,60,80,100],"title":"CD62L-APC + cells (%)"}}
   },
   "layer":[
    {"transform":[{"filter":"indexof(datum.g,'-')>0"}],"mark":{"type":"circle","size":26,"opacity":1},"encoding":{"x":{"field":"g","type":"nominal","axis":{"labelExpr":"slice(datum.value,1)","labelAngle":0,"labelFontSize":9,"title":"ATP","titleX":-8,"titleY":15,"titleAlign":"center","titleBaseline":"alphabetic","titleFontSize":10.5}},"color":{"field":"g","type":"nominal","scale":{"domain":["C-","C+","E-","E+"],"range":["#1c1cff","#1c1cff","#ff3333","#ff3333"]},"legend":null}}},
    {"transform":[{"filter":"indexof(datum.g,'+')>0"}],"mark":{"type":"point","size":26,"strokeWidth":1.5,"opacity":1},"encoding":{"color":{"field":"g","type":"nominal","scale":{"domain":["C-","C+","E-","E+"],"range":["#1c1cff","#1c1cff","#ff3333","#ff3333"]},"legend":null}}},
    {"mark":{"type":"errorbar","extent":"stdev","ticks":true,"color":"#000"},"encoding":{}},
    {"mark":{"type":"tick","color":"#000","size":13,"thickness":1.5},"encoding":{"y":{"aggregate":"mean","field":"v","type":"quantitative","title":"CD62L-APC + cells (%)"}}},
    {"data":{"name":"Ep"},"mark":{"type":"rule","color":"#333","strokeWidth":1.3},"encoding":{"x2":{"field":"g2"}}},
    {"data":{"name":"Ep"},"transform":[{"fold":["g","g2"],"as":["kk","gg"]}],"mark":{"type":"tick","orient":"vertical","size":6,"thickness":1.3,"color":"#333"},"encoding":{"x":{"field":"gg","type":"nominal","axis":null}}},
    {"data":{"name":"Ep"},"transform":[{"filter":"datum.g=='C-'"}],"mark":{"type":"text","baseline":"bottom","dy":-1,"dx":-4,"fontSize":10},"encoding":{"x":{"field":"g","type":"nominal","bandPosition":1.333,"axis":null},"text":{"field":"p"}}},
    {"data":{"name":"Ep"},"transform":[{"filter":"datum.g=='E-'"}],"mark":{"type":"text","baseline":"bottom","dy":-1,"dx":5,"fontSize":10},"encoding":{"x":{"field":"g","type":"nominal","bandPosition":1.333,"axis":null},"text":{"field":"p"}}},
    {"data":{"name":"Ep"},"transform":[{"filter":"datum.g=='C+'"}],"mark":{"type":"text","baseline":"bottom","dy":-1,"fontSize":10},"encoding":{"x":{"field":"g","type":"nominal","bandPosition":2.167,"axis":{"orient":"bottom","offset":19,"domain":false,"ticks":false,"labelPadding":2,"labelFontSize":10.5,"labelAngle":0,"labelExpr":"datum.value=='C-'?'Control':datum.value=='E-'?'EROS KO':''","bandPosition":1.333,"title":null}},"text":{"field":"p"}}}
   ],
   "resolve":{"axis":{"x":"independent"}}},
  {"width":50,"height":1,"title":{"text":"F","anchor":"start","frame":"group","fontSize":13,"fontWeight":"bold","offset":5,"dx":25},"data":{"values":[{}]},"mark":"text","encoding":{}},
  {"data":{"name":"hF"},
   "facet":{"row":{"field":"k","type":"nominal","sort":["Control|- ATP","Control|+ ATP","EROS KO|- ATP","EROS KO|+ ATP"],"header":{"labels":false,"titleFontSize":11,"titleFontWeight":"normal","titlePadding":2},"title":"Normalised to mode"}},
   "spacing":0,"bounds":"flush",
   "spec":{"width":130,"height":31,"view":{"stroke":"#9a9a9a","strokeWidth":1},
    "layer":[
     {"mark":{"type":"area","line":{"strokeWidth":1.2},"opacity":1,"interpolate":"monotone"},"encoding":{
      "x":{"field":"x","type":"quantitative","scale":{"domain":[0,100],"nice":false},"axis":{"labels":false,"values":[1,8,12,14.5,16.5,18,19,20,21,21.5,22,22.5,23,23.5,24,35,42,46,49,51,53,54.5,56,66,73,77,80,82,84,85.5,87,97],"title":"CD27-FITC","tickSize":4}},
      "y":{"field":"d","type":"quantitative","scale":{"domain":[0,1],"nice":false},"axis":null},
      "color":{"field":"k","type":"nominal","scale":{"domain":["Control|- ATP","Control|+ ATP","EROS KO|- ATP","EROS KO|+ ATP"],"range":["#1010d8","#4aa6ff","#f01010","#f7a8a8"]},"legend":null}}},
     {"transform":[{"aggregate":[{"op":"count","as":"n"}],"groupby":["k"]}],"mark":{"type":"text","align":"right","baseline":"top","lineBreak":"|","fontSize":10.5,"lineHeight":11,"dx":-2,"dy":1},"encoding":{"x":{"datum":100,"type":"quantitative"},"y":{"datum":1,"type":"quantitative"},"text":{"field":"k","type":"nominal"}}}
    ]}},
  {"width":180,"height":1,"data":{"values":[{}]},"mark":"text","encoding":{}},
  {"width":88,"height":126,
   "data":{"name":"F"},
   "encoding":{
    "x":{"field":"g","type":"nominal","scale":{"type":"band","domain":["C-","C+","E-","E+"],"paddingInner":0.4,"paddingOuter":0.4},"axis":null},
    "y":{"field":"v","type":"quantitative","scale":{"domain":[0,100],"nice":false},"axis":{"values":[0,20,40,60,80,100],"title":"CD27- FITC + cells (%)"}}
   },
   "layer":[
    {"transform":[{"filter":"indexof(datum.g,'-')>0"}],"mark":{"type":"circle","size":26,"opacity":1},"encoding":{"x":{"field":"g","type":"nominal","axis":{"labelExpr":"slice(datum.value,1)","labelAngle":0,"labelFontSize":9,"title":"ATP","titleX":-7,"titleY":15,"titleAlign":"center","titleBaseline":"alphabetic","titleFontSize":10.5}},"color":{"field":"g","type":"nominal","scale":{"domain":["C-","C+","E-","E+"],"range":["#1c1cff","#1c1cff","#ff3333","#ff3333"]},"legend":null}}},
    {"transform":[{"filter":"indexof(datum.g,'+')>0"}],"mark":{"type":"point","size":26,"strokeWidth":1.5,"opacity":1},"encoding":{"color":{"field":"g","type":"nominal","scale":{"domain":["C-","C+","E-","E+"],"range":["#1c1cff","#1c1cff","#ff3333","#ff3333"]},"legend":null}}},
    {"mark":{"type":"errorbar","extent":"stdev","ticks":true,"color":"#000"},"encoding":{}},
    {"mark":{"type":"tick","color":"#000","size":13,"thickness":1.5},"encoding":{"y":{"aggregate":"mean","field":"v","type":"quantitative","title":"CD27- FITC + cells (%)"}}},
    {"data":{"name":"Fp"},"mark":{"type":"rule","color":"#333","strokeWidth":1.3},"encoding":{"x2":{"field":"g2"}}},
    {"data":{"name":"Fp"},"transform":[{"fold":["g","g2"],"as":["kk","gg"]}],"mark":{"type":"tick","orient":"vertical","size":6,"thickness":1.3,"color":"#333"},"encoding":{"x":{"field":"gg","type":"nominal","axis":null}}},
    {"data":{"name":"Fp"},"transform":[{"filter":"datum.g=='C-'"}],"mark":{"type":"text","baseline":"bottom","dy":-1,"dx":-4,"fontSize":10},"encoding":{"x":{"field":"g","type":"nominal","bandPosition":1.333,"axis":null},"text":{"field":"p"}}},
    {"data":{"name":"Fp"},"transform":[{"filter":"datum.g=='E-'"}],"mark":{"type":"text","baseline":"bottom","dy":-1,"dx":5,"fontSize":10},"encoding":{"x":{"field":"g","type":"nominal","bandPosition":1.333,"axis":null},"text":{"field":"p"}}},
    {"data":{"name":"Fp"},"transform":[{"filter":"datum.g=='C+'"}],"mark":{"type":"text","baseline":"bottom","dy":-1,"fontSize":10},"encoding":{"x":{"field":"g","type":"nominal","bandPosition":2.167,"axis":{"orient":"bottom","offset":16,"domain":false,"ticks":false,"labelPadding":2,"labelFontSize":9.5,"labelAngle":0,"labelExpr":"datum.value=='C-'?'Control':datum.value=='E-'?'EROS KO':''","bandPosition":1.333,"title":null}},"text":{"field":"p"}}}
   ],
   "resolve":{"axis":{"x":"independent"}}}
 ]},
 {"spacing":0,"bounds":"flush","resolve":{"scale":{"color":"independent","stroke":"independent"}},"hconcat":[
  {"width":53,"height":1,"title":{"text":"G","anchor":"start","frame":"group","fontSize":13,"fontWeight":"bold","offset":1,"dx":6},"data":{"values":[{}]},"mark":"text","encoding":{}},
  {"width":122,"height":121,"title":{"text":"Control CD4⁺ T cells","offset":-5},
   "layer":[
    {"data":{"name":"gcR"},"mark":{"type":"rect","opacity":0.9},"encoding":{
     "x":{"field":"x1","type":"quantitative","scale":{"domain":[0,100],"nice":false},"axis":{"labels":false,"values":[2,10,14,17,19,20,21,22,33,40,45,48,51,53,55,56.5,67,74,79,83,86,89,91,93],"title":"Annexin V","titleX":7,"titleY":21,"titleAlign":"left","titleBaseline":"alphabetic"}},
     "x2":{"field":"x2"},
     "y":{"field":"y1","type":"quantitative","scale":{"domain":[0,108],"nice":false},"axis":{"labels":false,"values":[3,12,15,17,18.5,19.5,20,21,27,30,32,33.5,34.5,35.5,36,45,50,54,57,59,61,63,65,73,78,81,84,86,88,90,91],"title":"Propidium Iodide"}},
     "y2":{"field":"y2"},
     "color":{"field":"s","type":"nominal","scale":{"domain":["minus","plus"],"range":["#1c1cff","#ff2020"]},"legend":null}}},
    {"data":{"name":"gcP"},"mark":{"type":"square","size":8,"opacity":0.9},"encoding":{"x":{"field":"x","type":"quantitative","title":"Annexin V"},"y":{"field":"y","type":"quantitative","title":"Propidium Iodide"},"color":{"field":"s","type":"nominal","scale":{"domain":["minus","plus"],"range":["#1c1cff","#ff2020"]},"legend":null}}},
    {"data":{"values":[{}]},"mark":{"type":"rule","color":"#808080","strokeWidth":1},"encoding":{"x":{"datum":56.5}}},
    {"data":{"values":[{}]},"mark":{"type":"rule","color":"#808080","strokeWidth":1},"encoding":{"y":{"datum":33}}},
    {"data":{"values":[{}]},"mark":{"type":"text","align":"right","baseline":"middle","fontSize":11},"encoding":{"x":{"datum":98},"y":{"datum":95.5},"text":{"value":"39.2"}}},
    {"data":{"values":[{}]},"mark":{"type":"text","align":"left","baseline":"middle","fontSize":11},"encoding":{"x":{"datum":1},"y":{"datum":3},"text":{"value":"25.2"}}},
    {"data":{"values":[{}]},"mark":{"type":"text","align":"right","baseline":"middle","fontSize":11},"encoding":{"x":{"datum":98},"y":{"datum":3},"text":{"value":"34.8"}}},
    {"data":{"values":[{}]},"mark":{"type":"text","align":"left","baseline":"middle","fontSize":12,"color":"#1c1cff"},"encoding":{"x":{"datum":3},"y":{"datum":95},"text":{"value":"- ATP"}}},
    {"data":{"values":[{}]},"mark":{"type":"text","align":"left","baseline":"middle","fontSize":12,"color":"#ff2020"},"encoding":{"x":{"datum":3},"y":{"datum":86},"text":{"value":"+ ATP"}}}
   ]},
  {"width":28,"height":1,"data":{"values":[{}]},"mark":"text","encoding":{}},
  {"width":124,"height":121,"title":{"text":"EROS KO  CD4⁺ T cells","offset":-5},
   "layer":[
    {"data":{"name":"geR"},"mark":{"type":"rect","opacity":0.9},"encoding":{
     "x":{"field":"x1","type":"quantitative","scale":{"domain":[0,100],"nice":false},"axis":{"labels":false,"values":[2,10,14,17,19,20,21,22,33,40,45,48,51,53,55,58,67,74,79,83,86,89,91,93],"title":null}},
     "x2":{"field":"x2"},
     "y":{"field":"y1","type":"quantitative","scale":{"domain":[0,108],"nice":false},"axis":{"labels":false,"values":[3,12,15,17,18.5,19.5,20,21,27,30,32,33.5,34.5,35.5,36,45,50,54,57,59,61,63,65,73,78,81,84,86,88,90,91],"title":null}},
     "y2":{"field":"y2"},
     "color":{"field":"s","type":"nominal","scale":{"domain":["minus","plus"],"range":["#1c1cff","#ff2020"]},"legend":null}}},
    {"data":{"name":"geP"},"mark":{"type":"square","size":8,"opacity":0.9},"encoding":{"x":{"field":"x","type":"quantitative","title":null},"y":{"field":"y","type":"quantitative","title":null},"color":{"field":"s","type":"nominal","scale":{"domain":["minus","plus"],"range":["#1c1cff","#ff2020"]},"legend":null}}},
    {"data":{"values":[{}]},"mark":{"type":"rule","color":"#808080","strokeWidth":1},"encoding":{"x":{"datum":58}}},
    {"data":{"values":[{}]},"mark":{"type":"rule","color":"#808080","strokeWidth":1},"encoding":{"y":{"datum":33}}},
    {"data":{"values":[{}]},"mark":{"type":"text","align":"right","baseline":"middle","fontSize":11},"encoding":{"x":{"datum":98},"y":{"datum":95.5},"text":{"value":"26.6"}}},
    {"data":{"values":[{}]},"mark":{"type":"text","align":"left","baseline":"middle","fontSize":11},"encoding":{"x":{"datum":1},"y":{"datum":3},"text":{"value":"48.4"}}},
    {"data":{"values":[{}]},"mark":{"type":"text","align":"right","baseline":"middle","fontSize":11},"encoding":{"x":{"datum":98},"y":{"datum":3},"text":{"value":"24.1"}}},
    {"data":{"values":[{}]},"mark":{"type":"text","align":"left","baseline":"middle","fontSize":12,"color":"#1c1cff"},"encoding":{"x":{"datum":3},"y":{"datum":95},"text":{"value":"- ATP"}}},
    {"data":{"values":[{}]},"mark":{"type":"text","align":"left","baseline":"middle","fontSize":12,"color":"#ff2020"},"encoding":{"x":{"datum":3},"y":{"datum":86},"text":{"value":"+ ATP"}}}
   ]},
  {"width":68,"height":1,"data":{"values":[{}]},"mark":"text","encoding":{}},
  {"width":112,"height":110,
   "data":{"name":"G"},
   "encoding":{
    "x":{"field":"g","type":"nominal","scale":{"type":"band","domain":["C-","C+","E-","E+"],"paddingInner":0.4,"paddingOuter":0.35},"axis":null},
    "y":{"field":"v","type":"quantitative","scale":{"domain":[0,101],"nice":false},"axis":{"values":[0,20,40,60,80,100],"title":"Apoptosing (%)"}}
   },
   "layer":[
    {"transform":[{"filter":"indexof(datum.g,'-')>0"}],"mark":{"type":"circle","size":26,"opacity":1},"encoding":{"x":{"field":"g","type":"nominal","axis":{"labelExpr":"slice(datum.value,1)","labelAngle":0,"labelFontSize":9,"title":"ATP","titleX":-7,"titleY":18,"titleAlign":"center","titleBaseline":"alphabetic","titleFontSize":10.5}},"color":{"field":"g","type":"nominal","scale":{"domain":["C-","C+","E-","E+"],"range":["#1c1cff","#1c1cff","#ff3333","#ff3333"]},"legend":null}}},
    {"transform":[{"filter":"indexof(datum.g,'+')>0"}],"mark":{"type":"point","size":26,"strokeWidth":1.5,"opacity":1},"encoding":{"color":{"field":"g","type":"nominal","scale":{"domain":["C-","C+","E-","E+"],"range":["#1c1cff","#1c1cff","#ff3333","#ff3333"]},"legend":null}}},
    {"mark":{"type":"tick","color":"#000","size":16,"thickness":1.5},"encoding":{"y":{"aggregate":"mean","field":"v","type":"quantitative","title":"Apoptosing (%)"}}},
    {"data":{"name":"Gp"},"mark":{"type":"rule","color":"#333","strokeWidth":1.3},"encoding":{"x2":{"field":"g2"}}},
    {"data":{"name":"Gp"},"transform":[{"fold":["g","g2"],"as":["kk","gg"]}],"mark":{"type":"tick","orient":"vertical","size":6,"thickness":1.3,"color":"#333"},"encoding":{"x":{"field":"gg","type":"nominal","axis":null}}},
    {"data":{"name":"Gp"},"transform":[{"filter":"datum.g!='C+'"}],"mark":{"type":"text","baseline":"bottom","dy":-1},"encoding":{"x":{"field":"g","type":"nominal","bandPosition":1.333,"axis":null},"text":{"field":"p"}}},
    {"data":{"name":"Gp"},"transform":[{"filter":"datum.g=='C+'"}],"mark":{"type":"text","baseline":"bottom","dy":-1},"encoding":{"x":{"field":"g","type":"nominal","bandPosition":2.167,"axis":{"orient":"bottom","offset":20,"domain":false,"ticks":false,"labelPadding":2,"labelFontSize":11,"labelAngle":0,"labelExpr":"datum.value=='C-'?'Control':datum.value=='E-'?'EROS KO':''","bandPosition":1.333,"title":null}},"text":{"field":"p"}}}
   ],
   "resolve":{"axis":{"x":"independent"}}},
  {"width":52,"height":1,"title":{"text":"H","anchor":"start","frame":"group","fontSize":13,"fontWeight":"bold","offset":1,"dx":8},"data":{"values":[{}]},"mark":"text","encoding":{}},
  {"width":104,"height":113,"title":{"text":"Influenza infection","offset":-4},
   "data":{"name":"H"},
   "encoding":{
    "x":{"field":"d","type":"quantitative","title":"Days post infection","scale":{"domain":[0,30],"nice":false},"axis":{"values":[0,5,10,15,20,25,30],"title":"Days post infection","labelOverlap":false,"labelSeparation":0}},
    "y":{"field":"s","type":"quantitative","title":"Percent survival","scale":{"domain":[0,108],"nice":false},"axis":{"values":[0,20,40,60,80,100],"title":"Percent survival","labelOverlap":false}}
   },
   "layer":[
    {"mark":{"type":"line","interpolate":"step-after","strokeWidth":2.5},"encoding":{"color":{"field":"grp","type":"nominal","scale":{"domain":["Control","EROS KO"],"range":["#1c1cff","#ff2020"]},"legend":null}}},
    {"transform":[{"filter":"datum.grp=='EROS KO' && datum.d==25"}],"mark":{"type":"circle","size":55,"color":"#ff2020","opacity":1},"encoding":{}},
    {"transform":[{"filter":"datum.grp=='Control' && datum.d==25"}],"mark":{"type":"tick","orient":"vertical","size":7,"thickness":1.5,"color":"#000"},"encoding":{}}
   ]},
  {"width":62,"height":55,
   "data":{"name":"Hleg"},
   "encoding":{"y":{"field":"grp","type":"nominal","scale":{"type":"point","domain":["Control","EROS KO"],"range":[21,34],"padding":0},"axis":null}},
   "layer":[
    {"mark":{"type":"rule","strokeWidth":3},"encoding":{"x":{"datum":-0.1,"type":"quantitative","scale":{"domain":[0,1]},"axis":null},"x2":{"datum":0.16},"color":{"field":"grp","type":"nominal","scale":{"domain":["Control","EROS KO"],"range":["#1c1cff","#ff2020"]},"legend":null}}},
    {"transform":[{"filter":"datum.grp=='EROS KO'"}],"mark":{"type":"circle","size":45,"color":"#ff2020","opacity":1},"encoding":{"x":{"datum":0.03,"type":"quantitative"}}},
    {"transform":[{"filter":"datum.grp=='Control'"}],"mark":{"type":"tick","orient":"vertical","size":6,"thickness":1.5,"color":"#000"},"encoding":{"x":{"datum":0.03,"type":"quantitative"}}},
    {"mark":{"type":"text","align":"left","baseline":"middle","fontSize":11},"encoding":{"x":{"datum":0.2,"type":"quantitative"},"text":{"field":"grp","type":"nominal"}}}
   ]}
 ]}
]
}
